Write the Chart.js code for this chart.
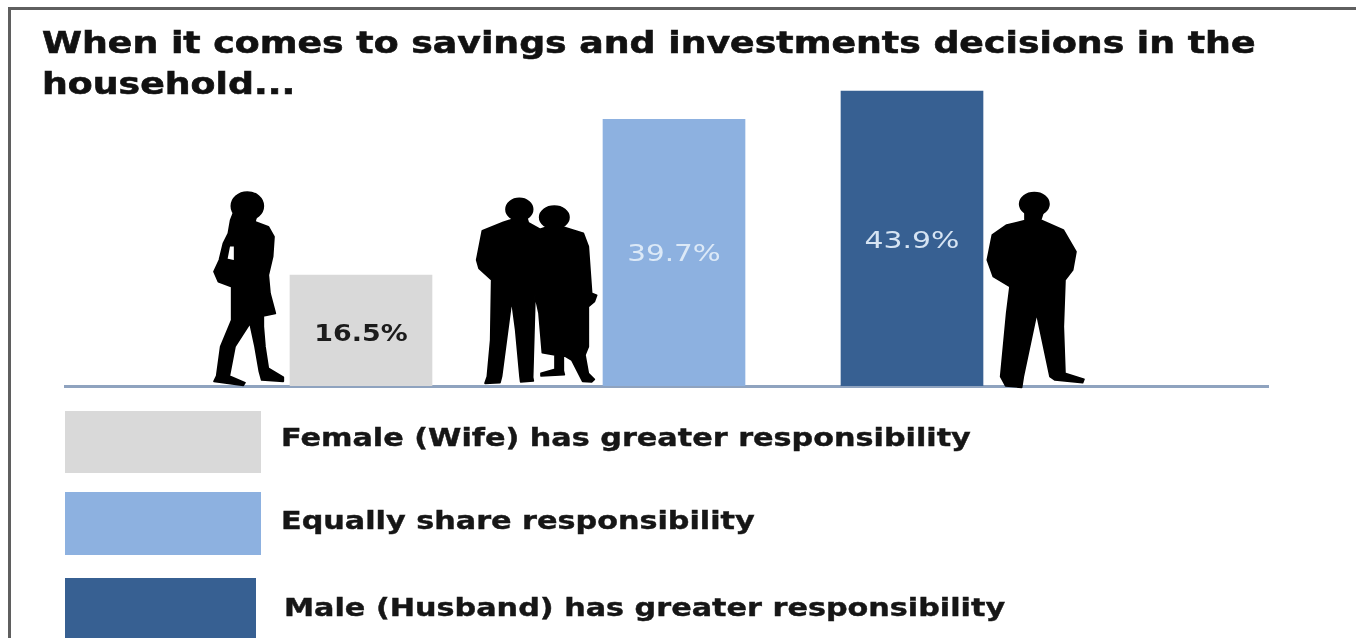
<!DOCTYPE html>
<html>
<head>
<meta charset="utf-8">
<title>Savings and investments decisions</title>
<script src="https://cdn.jsdelivr.net/npm/chart.js@4/dist/chart.umd.js"></script>
<style>
  html, body { margin: 0; padding: 0; background: #fff; overflow: hidden; }
  #stage { position: relative; width: 1356px; height: 638px; overflow: hidden; }
  #frame { position: absolute; left: 8px; top: 7px; width: 1400px; height: 700px; border: 3px solid #5f5f5f; }
  #chart { position: absolute; left: 0; top: 0; }
  #people { position: absolute; left: 0; top: 0; pointer-events: none; }
  #people path, #people ellipse { stroke: #000; stroke-width: 5; stroke-linejoin: round; }
  .key { position: absolute; left: 65px; width: 196px; height: 62px; }
  .key-label { position: absolute; left: 216px; top: 13px; white-space: nowrap; color: #161616;
    font: bold 24px "DejaVu Sans"; -webkit-text-stroke: 0.4px #161616;
    transform: scaleX(1.26); transform-origin: left center; }
  .key:nth-child(1) { top: 411px; }
  .key:nth-child(2) { top: 492px; height: 63px; }
  .key:nth-child(3) { top: 578px; width: 191px; }
  .key:nth-child(2) .key-label { top: 15px; }
  .key:nth-child(3) .key-label { left: 219px; top: 16px; }
</style>
</head>
<body>
<div id="stage">
  <div id="frame"></div>
  <canvas id="chart" width="1356" height="638"></canvas>
  <svg id="people" width="1356" height="638" fill="#000">
    <!-- woman walking -->
    <g transform="translate(200,180) scale(0.3333)">
      <ellipse cx="142" cy="78" rx="48" ry="42"/>
      <path fill-rule="evenodd" d="M100 100 L170 105 L165 125 L205 140 L222 170 L218 230 L205 285 L210 340 L226 400 L190 408 L190 440 L195 500 L205 565 L250 592 L250 604 L185 600 L178 575 L165 500 L150 430 L105 500 L88 588 L135 608 L130 616 L42 604 L50 588 L62 500 L95 420 L95 320 L55 305 L42 275 L58 240 L70 190 L85 160 L92 120 Z M88 197 L104 197 L104 243 L80 238 Z"/>
    </g>
    <!-- couple -->
    <g transform="translate(460,180) scale(0.3333)">
      <ellipse cx="178" cy="88" rx="40" ry="33"/>
      <ellipse cx="283" cy="112" rx="44" ry="34"/>
      <path d="M160 110 L200 112 L205 128 L240 148 L265 140 L305 140 L370 160 L385 200 L395 340 L410 346 L403 365 L385 380 L385 500 L375 525 L385 580 L403 598 L395 606 L368 604 L335 540 L310 525 L310 572 L313 584 L243 588 L243 580 L285 568 L285 525 L247 518 L237 400 L225 345 L218 592 L220 603 L182 606 L180 590 L167 450 L155 360 L125 588 L120 608 L75 610 L82 590 L92 480 L95 300 L57 265 L50 240 L67 152 L130 127 L158 118 Z"/>
    </g>
    <!-- man -->
    <g transform="translate(830,180) scale(0.3333)">
      <ellipse cx="613" cy="72" rx="44" ry="34"/>
      <path d="M585 95 L640 95 L632 120 L700 150 L738 215 L728 270 L705 300 L700 440 L705 580 L762 598 L758 608 L675 600 L660 590 L620 400 L580 590 L575 622 L527 618 L512 590 L530 400 L540 320 L490 290 L472 240 L487 165 L530 135 L585 122 Z"/>
    </g>
  </svg>
  <div id="legend"></div>
</div>
<script>
const titleLines = ["When it comes to savings and investments decisions in the", "household..."];
const categories = [
  "Female (Wife) has greater responsibility",
  "Equally share responsibility",
  "Male (Husband) has greater responsibility"
];
const shares = [16.5, 39.7, 43.9];
const barColors = ["#d9d9d9", "#8db1e0", "#376092"];

// category scale whose slots are not evenly spaced, centres are given in px from the axis start
class SpacedCategoryScale extends Chart.CategoryScale {
  getPixelForValue(value) {
    return this.left + this.options.centres[value];
  }
}
SpacedCategoryScale.id = "spacedCategory";
SpacedCategoryScale.defaults = Chart.CategoryScale.defaults;
Chart.register(SpacedCategoryScale);

// value text sits at its own depth below the top of each bar
const valueLabels = {
  id: "valueLabels",
  afterDatasetsDraw(chart, args, opts) {
    const ctx = chart.ctx;
    chart.getDatasetMeta(0).data.forEach((bar, i) => {
      ctx.save();
      ctx.translate(bar.x, bar.y + opts.depth[i]);
      ctx.scale(opts.stretch[i], 1);
      ctx.font = opts.fonts[i];
      ctx.fillStyle = opts.colors[i];
      ctx.textAlign = "center";
      ctx.textBaseline = "middle";
      ctx.fillText(shares[i].toFixed(1) + "%", 0, 0);
      ctx.restore();
    });
  }
};

// heading in a wide cut, the built-in title has no way to stretch its glyphs
const wideTitle = {
  id: "wideTitle",
  afterDraw(chart, args, opts) {
    const ctx = chart.ctx;
    titleLines.forEach((line, i) => {
      ctx.save();
      ctx.translate(opts.x, opts.y + i * opts.lineHeight);
      ctx.scale(opts.stretch, 1);
      ctx.font = opts.font;
      ctx.fillStyle = opts.color;
      ctx.strokeStyle = opts.color;
      ctx.lineWidth = 0.6;
      ctx.fillText(line, 0, 0);
      ctx.strokeText(line, 0, 0);
      ctx.restore();
    });
  }
};

new Chart(document.getElementById("chart"), {
  type: "bar",
  data: {
    labels: categories,
    datasets: [{ data: shares, backgroundColor: barColors, barThickness: 142 }]
  },
  plugins: [valueLabels, wideTitle],
  options: {
    responsive: false,
    animation: false,
    layout: { padding: { left: 42, right: 88, bottom: 244, top: 66 } },
    scales: {
      x: {
        type: "spacedCategory",
        centres: [296, 609, 847],
        grid: { display: false },
        ticks: { display: false },
        border: { display: true, color: "#8fa3bf", width: 3 }
      },
      y: {
        min: 0,
        max: 47.62,
        grid: { display: false },
        ticks: { display: false },
        border: { display: false },
        afterFit(scale) { scale.width = 23; }
      }
    },
    plugins: {
      legend: { display: false },
      title: { display: false },
      tooltip: { enabled: false },
      wideTitle: {
        x: 42,
        y: 53,
        lineHeight: 41,
        stretch: 1.17,
        font: "bold 31px 'DejaVu Sans'",
        color: "#111"
      },
      valueLabels: {
        depth: [60, 136, 151],
        stretch: [1.17, 1.28, 1.3],
        fonts: ["bold 23px 'DejaVu Sans'", "23px 'DejaVu Sans'", "23px 'DejaVu Sans'"],
        colors: ["#1c1c1c", "#dce9f7", "#d6e4f3"]
      }
    }
  }
});

// legend swatches and their labels
const legend = document.getElementById("legend");
categories.forEach((name, i) => {
  const key = document.createElement("div");
  key.className = "key";
  key.style.background = barColors[i];
  const label = document.createElement("span");
  label.className = "key-label";
  label.textContent = name;
  key.appendChild(label);
  legend.appendChild(key);
});
</script>
</body>
</html>
